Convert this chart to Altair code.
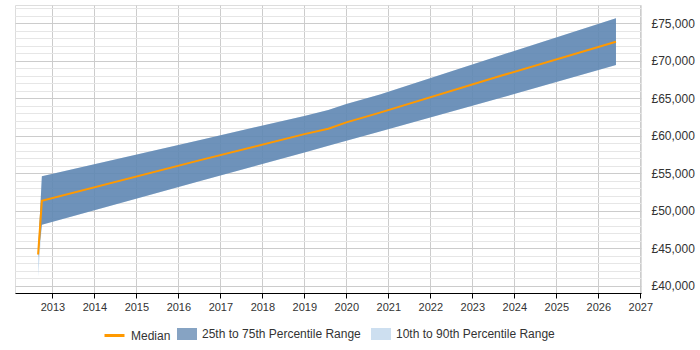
import altair as alt
import pandas as pd

# Values
years = [2012.66, 2012.75, 2016.52, 2019.0, 2019.57, 2020.0, 2020.8, 2023.66, 2026.42]
median = [44190, 51340, 56770, 60235, 60950, 61800, 63100, 67970, 72550]
p75 = [44600, 54630, 59450, 62660, 63440, 64250, 65500, 70720, 75670]
p25 = [43800, 48150, 54000, 57800, 58680, 59350, 60600, 65050, 69440]
p90 = [44800, 54630, 59450, 62660, 63440, 64250, 65500, 70720, 75670]
p10 = [41200, 48150, 54000, 57800, 58680, 59350, 60600, 65050, 69440]

line_names = ["Median"]
line_colors = ["#ff9900"]
band_names = ["25th to 75th Percentile Range", "10th to 90th Percentile Range"]
band_colors = ["#4a76a6", "#b4cfe9"]
x_ticks = list(range(2013, 2028))
y_grid = list(range(40000, 78000, 1000))

df = pd.DataFrame({"year": years, "median": median, "p10": p10, "p25": p25,
                   "p75": p75, "p90": p90})

FONT = "Liberation Sans"

x_enc = alt.X(
    "year:Q",
    scale=alt.Scale(domain=[2012.11, 2027.016], nice=False, zero=False),
    axis=alt.Axis(values=x_ticks, format="d", title=None, grid=True,
                  gridColor="#cccccc", gridWidth=1,
                  domainColor="#000000", tickColor="#000000", tickSize=5,
                  labelFont=FONT, labelFontSize=11, labelColor="#333333",
                  labelPadding=3, labelFlush=False),
)

y_axis = alt.Axis(
    orient="right", values=y_grid, title=None, domain=False, ticks=False,
    tickSize=0, labelPadding=10, labelFont=FONT, labelFontSize=12,
    labelColor="#333333",
    labelExpr="datum.value % 5000 === 0 ? '£' + format(datum.value, ',') : ''",
    gridColor={"condition": {"test": "datum.value % 5000 === 0", "value": "#cccccc"},
               "value": "#e6e6e6"},
)
y_scale = alt.Scale(domain=[39066, 77441], nice=False, zero=False)

line_legend = alt.Legend(
    title=None, orient="none", direction="horizontal", legendX=88, legendY=319,
    labelFont=FONT, labelFontSize=12, labelColor="#333333",
    symbolType="M-1,0H1", symbolSize=400, symbolStrokeWidth=3,
    labelOffset=5, padding=0,
)
band_legend = alt.Legend(
    title=None, orient="none", direction="horizontal", legendX=162, legendY=319,
    labelFont=FONT, labelFontSize=12, labelColor="#333333",
    symbolType="M-1,-0.6H1V0.6H-1Z", symbolSize=400, symbolStrokeWidth=0,
    symbolOpacity=0.67, labelOffset=5, columnPadding=10, padding=0,
)

stroke_enc = alt.Stroke("series:N", scale=alt.Scale(domain=line_names, range=line_colors),
                        legend=line_legend)
fill_enc = alt.Fill("series:N", scale=alt.Scale(domain=band_names, range=band_colors),
                    legend=band_legend)

base = alt.Chart(df)

band90 = base.transform_calculate(series="'10th to 90th Percentile Range'").mark_area(
    opacity=0.67).encode(
    x=x_enc, y=alt.Y("p10:Q", scale=y_scale, axis=y_axis), y2="p90:Q", fill=fill_enc)

band75 = base.transform_calculate(series="'25th to 75th Percentile Range'").mark_area(
    opacity=0.73).encode(
    x=x_enc, y=alt.Y("p25:Q", scale=y_scale, axis=y_axis), y2="p75:Q", fill=fill_enc)

line = base.transform_calculate(series="'Median'").mark_line(strokeWidth=2).encode(
    x=x_enc, y=alt.Y("median:Q", scale=y_scale, axis=y_axis), stroke=stroke_enc)

chart = alt.layer(band90, band75, line).properties(
    width=626, height=288, autosize="none",
    padding={"left": 15, "top": 5, "right": 59, "bottom": 57},
).configure_view(stroke=None).configure(background="white")

chart.save("out.html", embed_options={"renderer": "svg", "actions": False})
